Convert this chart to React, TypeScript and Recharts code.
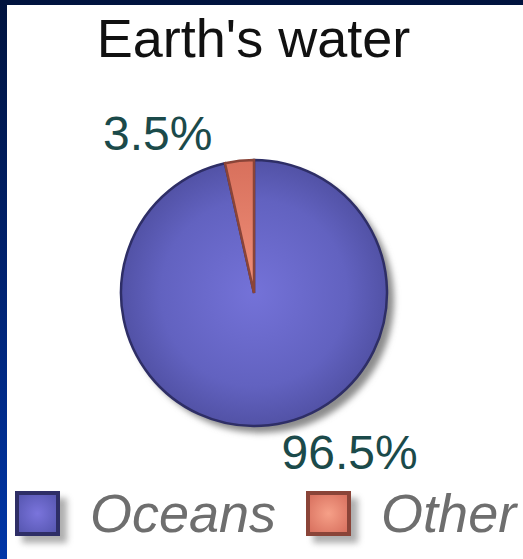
import { PieChart, Pie, Cell } from "recharts";

// Earth's water share
const categories = ["Oceans", "Other"];
const shares = [96.5, 3.5];
const labels = ["96.5%", "3.5%"];

const FILL = ["url(#oceanGrad)", "url(#otherGrad)"];
const STROKE = ["#2e2e66", "#8a4438"];

const data = categories.map((name, i) => ({ name, value: shares[i], label: labels[i] }));
const shadowData = [{ name: "shadow", value: 1 }];

const FONT = "'Liberation Sans', Arial, sans-serif";

function renderLabel(props: any) {
  const { cx, cy, midAngle, outerRadius, index } = props;
  const rad = Math.PI / 180;
  const r = outerRadius + 27;
  const cos = Math.cos(-midAngle * rad);
  const sin = Math.sin(-midAngle * rad);
  const right = cos >= 0;
  const x = cx + r * cos + (right ? 10 : -24);
  const y = cy + r * sin;
  return (
    <text
      x={x}
      y={y}
      textAnchor={right ? "start" : "end"}
      dominantBaseline="central"
      fill="#1b4a4a"
      fontSize={48}
      fontFamily={FONT}
    >
      {data[index].label}
    </text>
  );
}

function LegendSwatch({ fill, stroke }: { fill: string; stroke: string }) {
  return (
    <div style={{ position: "relative", width: 45, height: 45 }}>
      <div
        style={{
          position: "absolute",
          left: 7,
          top: 7,
          width: 45,
          height: 45,
          background: "#9a9a9a",
          filter: "blur(3px)",
          opacity: 0.8,
        }}
      />
      <div
        style={{
          position: "absolute",
          inset: 0,
          boxSizing: "border-box",
          border: `4px solid ${stroke}`,
          background: fill,
        }}
      />
    </div>
  );
}

const legendFills = [
  "radial-gradient(circle, #7a74dc 0%, #5656b0 100%)",
  "radial-gradient(circle, #f6a088 0%, #d8705e 100%)",
];

export default function App() {
  return (
    <div
      style={{
        position: "fixed",
        left: 0,
        top: 0,
        width: 523,
        height: 559,
        background: "linear-gradient(to bottom, #00133e 0%, #002270 50%, #0036a8 100%)",
        overflow: "hidden",
        fontFamily: FONT,
      }}
    >
      <div
        style={{
          position: "absolute",
          left: 7,
          top: 5,
          width: 516,
          height: 554,
          background: "#ffffff",
        }}
      />
      <div
        style={{
          position: "absolute",
          left: 0,
          top: 8,
          width: 523,
          textAlign: "center",
          fontSize: 54,
          color: "#111111",
          lineHeight: "60px",
          paddingRight: 16,
          boxSizing: "border-box",
        }}
      >
        Earth's water
      </div>
      <div style={{ position: "absolute", left: 0, top: 0 }}>
        <PieChart width={523} height={559} margin={{ top: 0, right: 0, bottom: 0, left: 0 }}>
          <defs>
            <radialGradient id="oceanGrad" cx="50%" cy="50%" r="50%">
              <stop offset="0%" stopColor="#7472d8" />
              <stop offset="70%" stopColor="#6262c0" />
              <stop offset="100%" stopColor="#5252a6" />
            </radialGradient>
            <linearGradient id="otherGrad" x1="0" y1="0" x2="0" y2="1">
              <stop offset="0%" stopColor="#d8705c" />
              <stop offset="100%" stopColor="#f0907a" />
            </linearGradient>
            <filter id="pieShadow" x="-20%" y="-20%" width="140%" height="140%">
              <feGaussianBlur stdDeviation="3" />
            </filter>
          </defs>
          <Pie
            data={shadowData}
            dataKey="value"
            cx={261}
            cy={300}
            outerRadius={133}
            fill="#8c8c8c"
            stroke="none"
            style={{ filter: "url(#pieShadow)" }}
            isAnimationActive={false}
          />
          <Pie
            data={data}
            dataKey="value"
            cx={254}
            cy={293}
            outerRadius={133}
            startAngle={90}
            endAngle={-270}
            label={renderLabel}
            labelLine={false}
            isAnimationActive={false}
          >
            {data.map((d, i) => (
              <Cell key={d.name} fill={FILL[i]} stroke={STROKE[i]} strokeWidth={2.5} />
            ))}
          </Pie>
        </PieChart>
      </div>
      <div
        style={{
          position: "absolute",
          left: 15,
          top: 491,
          display: "flex",
          alignItems: "center",
          whiteSpace: "nowrap",
        }}
      >
        {categories.map((c, i) => (
          <div key={c} style={{ display: "flex", alignItems: "center", marginRight: i === 0 ? 30 : 0 }}>
            <LegendSwatch fill={legendFills[i]} stroke={STROKE[i]} />
            <span
              style={{
                marginLeft: 30,
                fontSize: 54,
                fontStyle: "italic",
                color: "#6e6e6e",
                lineHeight: "45px",
              }}
            >
              {c}
            </span>
          </div>
        ))}
      </div>
    </div>
  );
}
